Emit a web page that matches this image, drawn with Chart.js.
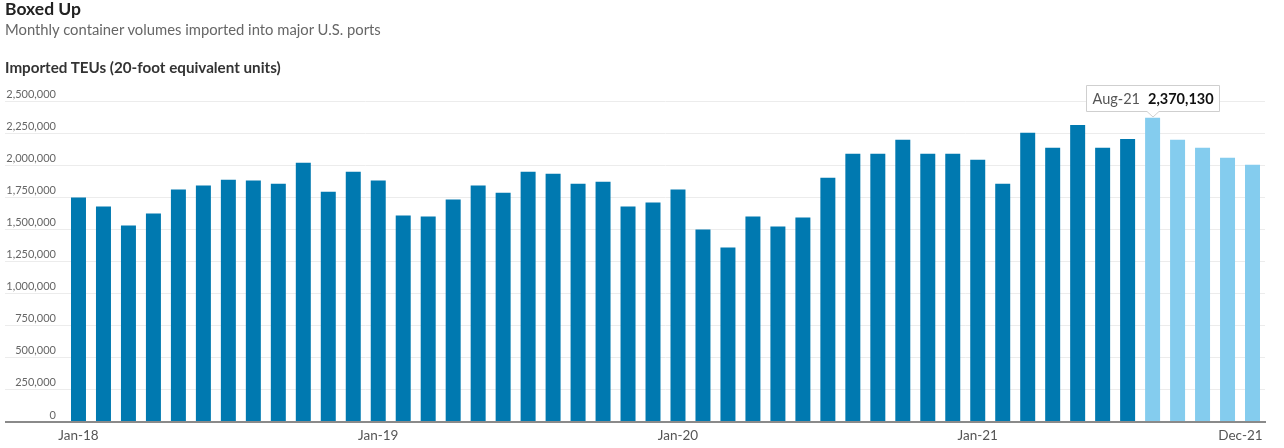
<!DOCTYPE html>
<html>
<head>
<meta charset="utf-8">
<title>Boxed Up</title>
<script src="https://cdn.jsdelivr.net/npm/chart.js@4.4.0/dist/chart.umd.min.js"></script>
<style>
  body { margin: 0; background: #fff; font-family: Lato, "Open Sans", sans-serif; }
  #wrap { position: relative; width: 1284px; height: 448px; overflow: hidden; }
  #chart { position: absolute; left: 0; top: 0; }
  .head { position: absolute; left: 5px; white-space: nowrap; }
  #title { top: -2px; font-size: 17.5px; font-weight: 700; color: #222; }
  #subtitle { top: 20px; font-size: 14.8px; color: #666; }
  #axisTitle { top: 58px; font-size: 15.2px; font-weight: 700; color: #333; }
</style>
</head>
<body>
<div id="wrap">
  <canvas id="chart" width="1284" height="448"></canvas>
  <div class="head" id="title">Boxed Up</div>
  <div class="head" id="subtitle">Monthly container volumes imported into major U.S. ports</div>
  <div class="head" id="axisTitle">Imported TEUs (20-foot equivalent units)</div>
</div>
<script>
const months = [
  "Jan-18", "Feb-18", "Mar-18", "Apr-18", "May-18", "Jun-18", "Jul-18", "Aug-18", "Sep-18", "Oct-18", "Nov-18", "Dec-18",
  "Jan-19", "Feb-19", "Mar-19", "Apr-19", "May-19", "Jun-19", "Jul-19", "Aug-19", "Sep-19", "Oct-19", "Nov-19", "Dec-19",
  "Jan-20", "Feb-20", "Mar-20", "Apr-20", "May-20", "Jun-20", "Jul-20", "Aug-20", "Sep-20", "Oct-20", "Nov-20", "Dec-20",
  "Jan-21", "Feb-21", "Mar-21", "Apr-21", "May-21", "Jun-21", "Jul-21", "Aug-21", "Sep-21", "Oct-21", "Nov-21", "Dec-21",
];
const imports = [
  1748000, 1678000, 1530000, 1624000, 1810000, 1841000, 1887000, 1880000, 1856000, 2019000, 1794000, 1949000,
  1880000, 1608000, 1600000, 1732000, 1841000, 1786000, 1949000, 1934000, 1856000, 1872000, 1678000, 1709000,
  1810000, 1499000, 1360000, 1600000, 1523000, 1593000, 1903000, 2089000, 2089000, 2198000, 2089000, 2089000,
  2042000, 1856000, 2252000, 2135000, 2314000, 2135000, 2205000, 2370130, 2198000, 2135000, 2058000, 2004000,
];
const shownLabels = ["Jan-18", "Jan-19", "Jan-20", "Jan-21", "Dec-21"];
const yTicks = [0, 250000, 500000, 750000, 1000000, 1250000, 1500000, 1750000, 2000000, 2250000, 2500000];
const forecastFrom = "Aug-21";   // lighter bars from here on
const highlightMonth = "Aug-21"; // the callout box

const DARK = "#0079b0";
const LIGHT = "#84ccee";

function fmt(n) {
  return n.toLocaleString("en-US");
}

// last label sits flush with the right edge, so pad it on the right
function xLabel(i) {
  const m = months[i];
  if (!shownLabels.includes(m)) return "";
  if (i === months.length - 1) return m + "\u00a0".repeat(7);
  return m;
}

// draws the little "Aug-21 2,370,130" box above its bar
const calloutPlugin = {
  id: "callout",
  afterDraw(chart) {
    const i = months.indexOf(highlightMonth);
    const bar = chart.getDatasetMeta(0).data[i];
    if (!bar) return;
    const ctx = chart.ctx;
    const label = months[i];
    const value = fmt(imports[i]);

    ctx.save();
    ctx.font = "14.5px Lato";
    const w1 = ctx.measureText(label).width;
    ctx.font = "bold 14.5px Lato";
    const w2 = ctx.measureText(value).width;

    const padX = 6, gap = 8, h = 26, caret = 6;
    const w = padX * 2 + w1 + gap + w2;
    const cx = Math.round(bar.x);
    const tipY = Math.round(bar.y) - 1;
    const bottom = tipY - caret + 0.5;
    const top = bottom - h;
    const left = Math.round(cx - w / 2) + 0.5;
    const right = left + Math.round(w);

    ctx.beginPath();
    ctx.moveTo(left, top);
    ctx.lineTo(right, top);
    ctx.lineTo(right, bottom);
    ctx.lineTo(cx + caret, bottom);
    ctx.lineTo(cx, tipY);
    ctx.lineTo(cx - caret, bottom);
    ctx.lineTo(left, bottom);
    ctx.closePath();
    ctx.fillStyle = "#fff";
    ctx.fill();
    ctx.strokeStyle = "#cfcfcf";
    ctx.lineWidth = 1;
    ctx.stroke();

    ctx.textBaseline = "middle";
    ctx.textAlign = "left";
    const ty = (top + bottom) / 2 + 1;
    ctx.font = "14.5px Lato";
    ctx.fillStyle = "#555";
    ctx.fillText(label, left + padX, ty);
    ctx.font = "bold 14.5px Lato";
    ctx.fillStyle = "#111";
    ctx.fillText(value, left + padX + w1 + gap, ty);
    ctx.restore();
  },
};

function renderChart() {
  const startIdx = months.indexOf(forecastFrom);
  const colors = months.map((m, i) => (i >= startIdx ? LIGHT : DARK));

  new Chart(document.getElementById("chart"), {
    type: "bar",
    data: {
      labels: months,
      datasets: [
        {
          label: "Imported TEUs",
          data: imports,
          backgroundColor: colors,
          borderWidth: 0,
          barPercentage: 0.6,
          categoryPercentage: 1.0,
        },
      ],
    },
    options: {
      responsive: false,
      animation: false,
      events: [],
      layout: { padding: { left: 5, right: 19, top: 101, bottom: 0 } },
      plugins: {
        legend: { display: false },
        tooltip: { enabled: false },
      },
      scales: {
        x: {
          z: 1,
          afterFit: (s) => {
            s.height = 26;
            s.paddingLeft = 0;
            s.paddingRight = 0;
          },
          border: { display: true, color: "#8a8a8a", width: 2 },
          grid: { display: false, drawTicks: false },
          ticks: {
            autoSkip: false,
            maxRotation: 0,
            padding: 6,
            color: "#555",
            font: { family: "Lato", size: 13.5 },
            callback: (v, i) => xLabel(i),
          },
        },
        y: {
          min: 0,
          max: 2500000,
          afterFit: (s) => { s.width = 61; },
          afterBuildTicks: (s) => { s.ticks = yTicks.map((v) => ({ value: v })); },
          border: { display: false },
          grid: {
            color: (c) => (c.tick && c.tick.value === 0 ? "#8a8a8a" : "#ececec"),
            lineWidth: (c) => (c.tick && c.tick.value === 0 ? 2 : 1),
            drawTicks: true,
            tickLength: 61,
          },
          ticks: {
            padding: -51,
            labelOffset: -7,
            color: "#666",
            font: { family: "Lato", size: 11 },
            callback: (v) => fmt(v),
          },
        },
      },
    },
    plugins: [calloutPlugin],
  });
}

document.addEventListener("DOMContentLoaded", () => {
  renderChart();
});
</script>
</body>
</html>
